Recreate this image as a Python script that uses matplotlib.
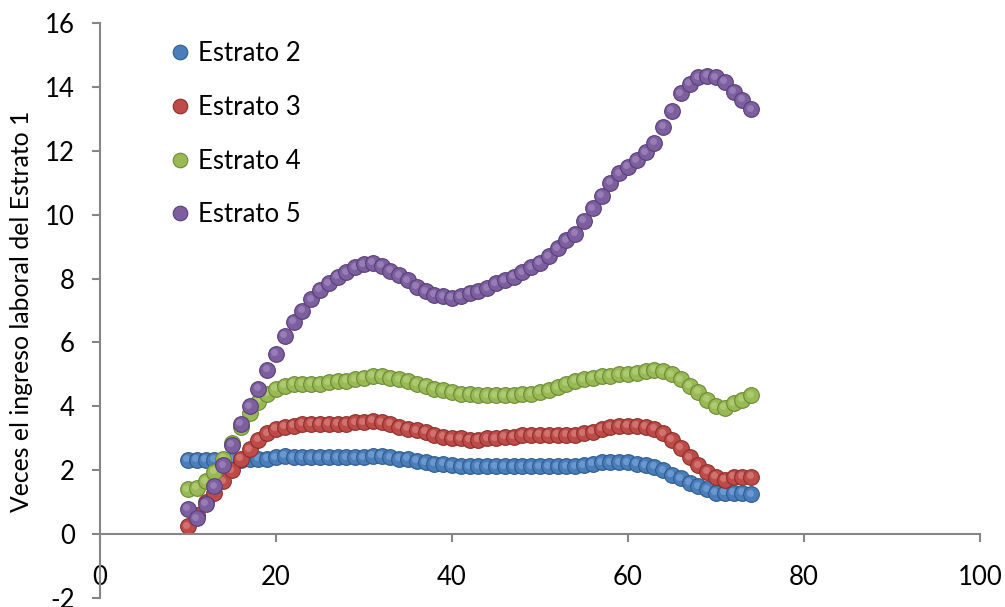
import matplotlib
matplotlib.use("Agg")
import matplotlib.pyplot as plt
import matplotlib.transforms as mtransforms
import numpy as np

edad = list(range(10, 75))

estrato2 = [2.33, 2.33, 2.33, 2.33, 2.33, 2.33, 2.33, 2.35, 2.35, 2.35,
            2.4, 2.45, 2.4, 2.4, 2.4, 2.4, 2.4, 2.4, 2.4, 2.4,
            2.4, 2.45, 2.45, 2.4, 2.35, 2.35, 2.3, 2.25, 2.2, 2.2,
            2.15, 2.12, 2.12, 2.12, 2.12, 2.12, 2.12, 2.12, 2.12, 2.12,
            2.12, 2.12, 2.12, 2.12, 2.12, 2.15, 2.2, 2.25, 2.25, 2.25,
            2.25, 2.2, 2.15, 2.1, 2.0, 1.85, 1.75, 1.6, 1.5, 1.4,
            1.3, 1.3, 1.3, 1.3, 1.25]

estrato3 = [0.25, 0.6, 1.0, 1.3, 1.65, 2.0, 2.35, 2.65, 2.95, 3.15,
            3.3, 3.35, 3.4, 3.45, 3.45, 3.45, 3.45, 3.45, 3.45, 3.5,
            3.5, 3.55, 3.5, 3.45, 3.35, 3.3, 3.25, 3.2, 3.1, 3.05,
            3.0, 3.0, 2.95, 2.95, 3.0, 3.0, 3.05, 3.05, 3.1, 3.1,
            3.1, 3.1, 3.1, 3.1, 3.1, 3.15, 3.2, 3.3, 3.35, 3.4,
            3.4, 3.4, 3.35, 3.3, 3.15, 2.95, 2.7, 2.4, 2.15, 1.95,
            1.8, 1.7, 1.8, 1.8, 1.8]

estrato4 = [1.4, 1.45, 1.65, 1.95, 2.35, 2.85, 3.35, 3.8, 4.15, 4.4,
            4.55, 4.65, 4.7, 4.7, 4.7, 4.7, 4.75, 4.8, 4.8, 4.85,
            4.9, 4.95, 4.95, 4.9, 4.85, 4.8, 4.7, 4.65, 4.55, 4.5,
            4.45, 4.4, 4.4, 4.35, 4.35, 4.35, 4.35, 4.35, 4.4, 4.4,
            4.45, 4.5, 4.6, 4.7, 4.8, 4.85, 4.9, 4.95, 4.95, 5.0,
            5.0, 5.05, 5.1, 5.15, 5.1, 5.0, 4.85, 4.65, 4.45, 4.2,
            4.0, 3.95, 4.1, 4.2, 4.35]

estrato5 = [0.8, 0.5, 0.95, 1.5, 2.15, 2.8, 3.45, 4.0, 4.55, 5.15,
            5.65, 6.2, 6.65, 7.0, 7.35, 7.65, 7.85, 8.05, 8.2, 8.35,
            8.45, 8.5, 8.4, 8.25, 8.1, 7.95, 7.75, 7.6, 7.5, 7.45,
            7.4, 7.45, 7.55, 7.6, 7.7, 7.85, 7.95, 8.05, 8.2, 8.35,
            8.5, 8.7, 8.95, 9.2, 9.4, 9.8, 10.2, 10.6, 11.0, 11.3,
            11.5, 11.7, 11.95, 12.25, 12.75, 13.25, 13.8, 14.1, 14.3, 14.35,
            14.3, 14.15, 13.85, 13.6, 13.3]

series_names = ["Estrato 2", "Estrato 3", "Estrato 4", "Estrato 5"]
series_values = [estrato2, estrato3, estrato4, estrato5]
colors = ["#4A7EBB", "#BE4B48", "#98B954", "#7D5FA0"]
edge_colors = ["#2F5A8C", "#8C2F2C", "#6B8A36", "#573F78"]
light_colors = ["#8DB3E2", "#E39A98", "#C3DA8E", "#B09BCB"]

xticks = [0, 20, 40, 60, 80, 100]
yticks = [-2, 0, 2, 4, 6, 8, 10, 12, 14, 16]

plt.rcParams['font.family'] = ['Lato', 'DejaVu Sans']

fig = plt.figure(figsize=(10.05, 6.07), dpi=100)
ax = fig.add_axes([100 / 1005, 1 - 598 / 607, 880 / 1005, 575 / 607])
ax.set_xlim(0, 100)
ax.set_ylim(-2, 16)

hl = mtransforms.offset_copy(ax.transData, fig=fig, x=-1.6, y=1.6, units='dots')
for name, vals, c, ec, lc in zip(series_names, series_values, colors, edge_colors, light_colors):
    ax.plot([], [], 'o', ms=10.5, mfc=c, mec=ec, mew=0.8, label=name)
    for xi, yi in zip(edad, vals):
        ax.plot(xi, yi, 'o', ms=11.3, mfc=c, mec=ec, mew=0.8, clip_on=False)
        ax.plot(xi, yi, 'o', ms=5, mfc=lc, mec='none', alpha=0.5,
                transform=hl, clip_on=False)

gray = "#868686"
for s in ['top', 'right']:
    ax.spines[s].set_visible(False)
ax.spines['bottom'].set_position(('data', 0))
ax.spines['left'].set_position(('data', 0))
for s in ['bottom', 'left']:
    ax.spines[s].set_color(gray)
    ax.spines[s].set_linewidth(1.5)

ax.set_xticks(xticks)
ax.set_yticks(yticks)
ax.set_xticklabels([str(v) for v in xticks])
ax.set_yticklabels([str(v) for v in yticks])
ax.tick_params(axis='x', direction='out', length=6, width=1.5, color=gray,
               labelsize=18.5, pad=16)
ax.tick_params(axis='y', direction='out', length=6, width=1.5, color=gray,
               labelsize=18.5, pad=12)

fig.text(22 / 1005, 1 - 311 / 607, "Veces el ingreso laboral del Estrato 1",
         rotation=90, ha='center', va='center', fontsize=17.8)

leg = ax.legend(loc='upper left', bbox_to_anchor=(0.056, 1.0), frameon=False,
                fontsize=18.5, handletextpad=0.2, labelspacing=1.12,
                handlelength=1.0, borderpad=0.2)

fig.savefig("out.png", dpi=100)
